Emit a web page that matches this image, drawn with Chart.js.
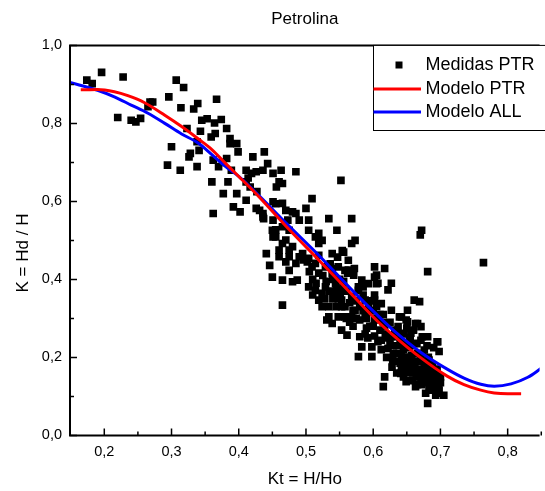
<!DOCTYPE html>
<html>
<head>
<meta charset="utf-8">
<script src="https://cdn.jsdelivr.net/npm/chart.js@4/dist/chart.umd.min.js"></script>
<style>
  html, body { margin: 0; padding: 0; background: #fff; overflow: hidden; }
</style>
</head>
<body>
<canvas id="grafico" width="545" height="491"></canvas>
<script>
// Medidas PTR: [Kt, K]
const medidasPTR = [
  [0.174,0.911],[0.182,0.902],[0.196,0.931],[0.228,0.919],[0.220,0.815],[0.240,0.808],[0.247,0.804],[0.254,0.813],
  [0.268,0.855],[0.265,0.843],[0.272,0.855],[0.307,0.911],[0.318,0.892],[0.296,0.868],[0.314,0.840],[0.333,0.837],
  [0.339,0.851],[0.323,0.787],[0.343,0.780],[0.345,0.808],[0.353,0.812],[0.300,0.740],[0.326,0.714],[0.328,0.723],
  [0.341,0.731],[0.338,0.753],[0.294,0.693],[0.313,0.680],[0.338,0.689],
  [0.367,0.862],[0.359,0.765],[0.364,0.801],[0.374,0.810],[0.365,0.774],[0.382,0.787],[0.387,0.761],
  [0.387,0.748],[0.397,0.748],[0.399,0.727],[0.362,0.706],[0.370,0.689],[0.382,0.710],[0.389,0.680],[0.421,0.714],
  [0.438,0.727],[0.443,0.697],[0.411,0.680],[0.419,0.672],[0.411,0.650],[0.426,0.676],[0.436,0.680],[0.451,0.672],
  [0.463,0.680],[0.485,0.676],[0.460,0.650],[0.456,0.637],[0.465,0.646],[0.360,0.650],[0.377,0.620],[0.397,0.620],
  [0.411,0.603],[0.392,0.586],[0.402,0.573],[0.362,0.569],[0.426,0.582],[0.436,0.569],[0.451,0.599],[0.465,0.595],
  [0.451,0.552],[0.470,0.577],[0.480,0.573],[0.490,0.552],[0.500,0.582],[0.509,0.607],[0.504,0.552],[0.465,0.535],
  [0.475,0.526],[0.451,0.509],[0.470,0.501],[0.480,0.484],[0.460,0.475],[0.441,0.466],[0.504,0.526],[0.514,0.509],
  [0.519,0.492],[0.495,0.466],[0.504,0.454],[0.514,0.441],[0.485,0.441],[0.475,0.458],
  [0.376,0.700],[0.384,0.650],[0.417,0.637],[0.427,0.625],[0.414,0.660],[0.437,0.556],[0.455,0.527],[0.473,0.552],
  [0.431,0.577],[0.436,0.560],[0.455,0.594],[0.485,0.569],[0.534,0.556],[0.568,0.556],[0.450,0.526],[0.455,0.509],
  [0.465,0.492],[0.475,0.475],[0.446,0.436],[0.460,0.458],[0.470,0.445],[0.475,0.423],[0.450,0.406],[0.465,0.398],
  [0.480,0.394],[0.487,0.398],[0.465,0.334],[0.490,0.458],[0.502,0.445],[0.509,0.432],[0.519,0.462],[0.519,0.518],
  [0.524,0.500],[0.539,0.466],[0.548,0.432],[0.504,0.381],[0.514,0.372],[0.519,0.347],[0.524,0.330],[0.534,0.304],
  [0.544,0.364],[0.553,0.347],[0.546,0.526],[0.568,0.492],[0.573,0.500],[0.563,0.449],[0.558,0.423],[0.583,0.398],
  [0.593,0.389],[0.602,0.406],[0.578,0.372],[0.558,0.330],[0.568,0.304],[0.548,0.304],[0.593,0.330],[0.602,0.347],
  [0.539,0.287],
  [0.539,0.428],[0.547,0.457],[0.554,0.474],[0.562,0.416],[0.572,0.428],[0.585,0.381],[0.519,0.416],[0.524,0.364],
  [0.496,0.450],[0.556,0.470],[0.536,0.440],[0.605,0.389],
  [0.529,0.432],[0.539,0.415],[0.529,0.381],[0.544,0.390],[0.534,0.330],[0.531,0.296],[0.551,0.364],[0.553,0.330],
  [0.558,0.304],[0.553,0.270],[0.561,0.257],[0.563,0.424],[0.571,0.411],[0.568,0.356],[0.578,0.381],[0.573,0.321],
  [0.580,0.296],[0.580,0.253],[0.583,0.227],[0.578,0.202],[0.598,0.227],[0.598,0.202],[0.588,0.347],[0.593,0.321],
  [0.602,0.432],[0.605,0.411],[0.607,0.390],[0.617,0.428],[0.627,0.390],[0.622,0.373],[0.602,0.360],[0.612,0.338],
  [0.602,0.296],[0.617,0.279],[0.627,0.321],[0.612,0.244],[0.622,0.223],[0.629,0.193],[0.617,0.150],[0.615,0.125],
  [0.642,0.304],[0.651,0.291],[0.637,0.253],[0.647,0.227],[0.642,0.202],[0.656,0.262],[0.666,0.287],[0.661,0.236],
  [0.671,0.244],[0.681,0.253],[0.661,0.347],[0.669,0.343],[0.671,0.202],[0.656,0.185],[0.676,0.176],[0.666,0.159],
  [0.681,0.150],[0.691,0.142],[0.686,0.116],[0.696,0.108],[0.705,0.103],[0.681,0.082],[0.696,0.240],[0.698,0.215],
  [0.693,0.125],[0.651,0.321],[0.671,0.279],[0.681,0.420],[0.637,0.279],[0.627,0.253],[0.642,0.167],[0.651,0.193],
  [0.661,0.167],[0.671,0.142],[0.686,0.168],[0.676,0.219],
  [0.639,0.304],[0.649,0.296],[0.663,0.287],[0.639,0.262],[0.644,0.236],[0.654,0.244],[0.673,0.253],[0.695,0.240],
  [0.644,0.193],[0.659,0.176],[0.673,0.210],[0.683,0.193],[0.659,0.142],[0.673,0.150],[0.688,0.159],[0.683,0.125],
  [0.698,0.116],[0.693,0.103],[0.641,0.159],[0.649,0.138],[0.663,0.125],[0.678,0.108],
  [0.552,0.654],[0.670,0.514],[0.672,0.526],[0.764,0.443],
  [0.540,0.400],[0.545,0.375],[0.548,0.350],[0.556,0.395],[0.560,0.370],[0.565,0.340],[0.570,0.320],[0.575,0.345],
  [0.585,0.360],[0.590,0.300],[0.595,0.280],[0.600,0.320],[0.605,0.300],[0.610,0.270],[0.615,0.310],[0.620,0.250],
  [0.625,0.290],[0.630,0.230],[0.632,0.270],[0.638,0.210],[0.640,0.240],[0.645,0.220],[0.648,0.180],[0.652,0.200],
  [0.655,0.160],[0.658,0.230],[0.660,0.190],[0.664,0.150],[0.666,0.210],[0.668,0.170],[0.672,0.130],[0.675,0.190],
  [0.678,0.160],[0.680,0.135],[0.684,0.170],[0.686,0.145],[0.690,0.120],[0.692,0.160],[0.694,0.135],[0.700,0.150],
  [0.602,0.255],[0.612,0.220],[0.620,0.200],[0.628,0.175],[0.635,0.190],[0.645,0.260],[0.655,0.250],[0.665,0.235],
  [0.585,0.320],[0.592,0.250],[0.570,0.280],[0.560,0.300],
  [0.505,0.420],[0.510,0.400],[0.515,0.390],[0.525,0.410],[0.530,0.395],[0.535,0.370],[0.540,0.350],[0.545,0.330],
  [0.528,0.350],[0.550,0.400],[0.555,0.380],[0.510,0.360],
  [0.565,0.290],[0.575,0.300],[0.580,0.330],[0.588,0.310],[0.590,0.275],[0.600,0.280],[0.595,0.345],[0.605,0.330],
  [0.610,0.310],[0.615,0.290],[0.607,0.240],[0.618,0.260],[0.588,0.260],
  [0.625,0.240],[0.630,0.210],[0.635,0.230],[0.640,0.185],[0.646,0.200],[0.650,0.170],[0.653,0.225],[0.657,0.205],
  [0.662,0.180],[0.667,0.190],[0.670,0.165],[0.674,0.145],[0.678,0.180],[0.682,0.200],[0.685,0.130],[0.688,0.180],
  [0.691,0.150],[0.695,0.170],[0.697,0.128],[0.700,0.135],[0.655,0.140],[0.665,0.130],[0.645,0.150],[0.635,0.160],
  [0.690,0.225],[0.680,0.230],[0.660,0.270],[0.650,0.275]
];

// Modelo PTR (curva roja)
const modeloPTR = [
  [0.165,0.886],[0.19,0.887],[0.215,0.881],[0.235,0.871],[0.26,0.853],[0.29,0.821],[0.315,0.792],[0.34,0.760],
  [0.36,0.733],[0.38,0.698],[0.40,0.664],[0.43,0.612],[0.47,0.537],[0.52,0.448],[0.57,0.358],[0.61,0.287],
  [0.635,0.249],[0.67,0.200],[0.71,0.152],[0.735,0.130],[0.76,0.116],[0.78,0.109],[0.80,0.107],[0.82,0.107]
];

// Modelo ALL (curva azul)
const modeloALL = [
  [0.149,0.905],[0.19,0.885],[0.215,0.868],[0.24,0.847],[0.265,0.826],[0.29,0.800],[0.315,0.773],[0.34,0.749],
  [0.36,0.720],[0.38,0.690],[0.40,0.664],[0.43,0.615],[0.47,0.545],[0.52,0.460],[0.57,0.370],[0.61,0.302],
  [0.635,0.262],[0.67,0.214],[0.71,0.170],[0.735,0.147],[0.76,0.131],[0.78,0.126],[0.805,0.132],[0.83,0.149],[0.85,0.172]
];

const ticksKt = [0.2, 0.3, 0.4, 0.5, 0.6, 0.7, 0.8];
const ticksKtMenores = [0.25, 0.35, 0.45, 0.55, 0.65, 0.75, 0.85];
const ticksK = [0, 0.2, 0.4, 0.6, 0.8, 1.0];
const ticksKMenores = [0.1, 0.3, 0.5, 0.7, 0.9];

const fuente = "'Liberation Sans', Arial, sans-serif";
const coma = v => v.toFixed(1).replace('.', ',');
const aPuntos = arr => arr.map(p => ({ x: p[0], y: p[1] }));

// ticks hacia dentro y marco superior
const marcas = {
  id: 'marcas',
  afterDatasetsDraw(chart) {
    const { ctx, chartArea: a, scales: { x, y } } = chart;
    ctx.save();
    ctx.strokeStyle = '#000';
    ctx.lineWidth = 1.5;
    ctx.beginPath();
    ticksKt.forEach(v => { const px = x.getPixelForValue(v); ctx.moveTo(px, a.bottom); ctx.lineTo(px, a.bottom - 7); });
    ticksKtMenores.forEach(v => { const px = x.getPixelForValue(v); ctx.moveTo(px, a.bottom); ctx.lineTo(px, a.bottom - 4); });
    ticksK.forEach(v => { const py = y.getPixelForValue(v); ctx.moveTo(a.left, py); ctx.lineTo(a.left + 7, py); });
    ticksKMenores.forEach(v => { const py = y.getPixelForValue(v); ctx.moveTo(a.left, py); ctx.lineTo(a.left + 4, py); });
    ctx.stroke();
    ctx.lineWidth = 2;
    ctx.beginPath();
    ctx.moveTo(a.left, a.top); ctx.lineTo(a.right, a.top);
    ctx.moveTo(a.left, a.top - 1); ctx.lineTo(a.left, a.bottom + 1);
    ctx.moveTo(a.left - 1, a.bottom); ctx.lineTo(a.right, a.bottom);
    ctx.stroke();

    // titulo eje y
    ctx.translate(23, 253);
    ctx.rotate(-Math.PI / 2);
    ctx.fillStyle = '#000';
    ctx.font = '17px ' + fuente;
    ctx.textAlign = 'center';
    ctx.textBaseline = 'middle';
    ctx.fillText('K = Hd / H', 0, 0);
    ctx.restore();
  }
};

// leyenda con caja
const leyenda = {
  id: 'leyenda',
  afterDraw(chart) {
    const { ctx, chartArea: a } = chart;
    const x0 = 373.5, y0 = a.top, y1 = 130.5;
    ctx.save();
    ctx.fillStyle = '#fff';
    ctx.fillRect(x0, y0, 200, y1 - y0);
    ctx.strokeStyle = '#000';
    ctx.lineWidth = 1;
    ctx.strokeRect(x0, y0, 200, y1 - y0);
    const filas = [65, 89, 112];
    ctx.font = '18px ' + fuente;
    ctx.textBaseline = 'middle';
    chart.data.datasets.forEach((ds, i) => {
      const cy = filas[i];
      if (ds.showLine) {
        ctx.strokeStyle = ds.borderColor;
        ctx.lineWidth = 3;
        ctx.beginPath();
        ctx.moveTo(x0, cy); ctx.lineTo(421, cy);
        ctx.stroke();
      } else {
        ctx.fillStyle = '#000';
        ctx.fillRect(395.5, cy - 3.5, 7, 7);
      }
      ctx.fillStyle = '#000';
      ctx.fillText(ds.label, 425.5, cy);
    });
    ctx.restore();
  }
};

const ctx = document.getElementById('grafico').getContext('2d');
new Chart(ctx, {
  type: 'scatter',
  data: {
    datasets: [
      {
        label: 'Medidas PTR',
        data: aPuntos(medidasPTR),
        pointStyle: 'rect',
        pointRadius: 5.4,
        pointBorderWidth: 0,
        backgroundColor: '#000',
        borderColor: '#000',
        order: 3
      },
      {
        label: 'Modelo PTR',
        data: aPuntos(modeloPTR),
        showLine: true,
        borderColor: '#ff0000',
        borderWidth: 3,
        pointRadius: 0,
        cubicInterpolationMode: 'monotone',
        order: 1
      },
      {
        label: 'Modelo ALL',
        data: aPuntos(modeloALL),
        showLine: true,
        borderColor: '#0000ff',
        borderWidth: 3,
        pointRadius: 0,
        cubicInterpolationMode: 'monotone',
        order: 2
      }
    ]
  },
  options: {
    responsive: false,
    animation: false,
    layout: { padding: 0 },
    plugins: {
      legend: { display: false },
      tooltip: { enabled: false },
      title: {
        display: true,
        text: 'Petrolina',
        fullSize: false,
        color: '#000',
        font: { family: fuente, size: 17, weight: 'normal' },
        padding: { top: 9, bottom: 16 }
      }
    },
    scales: {
      x: {
        type: 'linear',
        min: 0.149,
        max: 0.8475,
        afterBuildTicks: s => { s.ticks = ticksKt.map(v => ({ value: v })); },
        afterFit: s => { s.height = 55.6; },
        grid: { display: false, drawTicks: false },
        border: { display: false },
        ticks: {
          padding: 8,
          color: '#000',
          font: { family: fuente, size: 14.5 },
          callback: v => coma(v)
        },
        title: {
          display: true,
          text: 'Kt = H/Ho',
          color: '#000',
          font: { family: fuente, size: 17 },
          padding: { top: 0, bottom: 1 }
        }
      },
      y: {
        type: 'linear',
        min: 0,
        max: 1,
        afterBuildTicks: s => { s.ticks = ticksK.map(v => ({ value: v })); },
        afterFit: s => { s.width = 70; },
        grid: { display: false, drawTicks: false },
        border: { display: false },
        ticks: {
          padding: 8,
          color: '#000',
          font: { family: fuente, size: 14.5 },
          callback: v => coma(v)
        }
      }
    }
  },
  plugins: [marcas, leyenda]
});
</script>
</body>
</html>
